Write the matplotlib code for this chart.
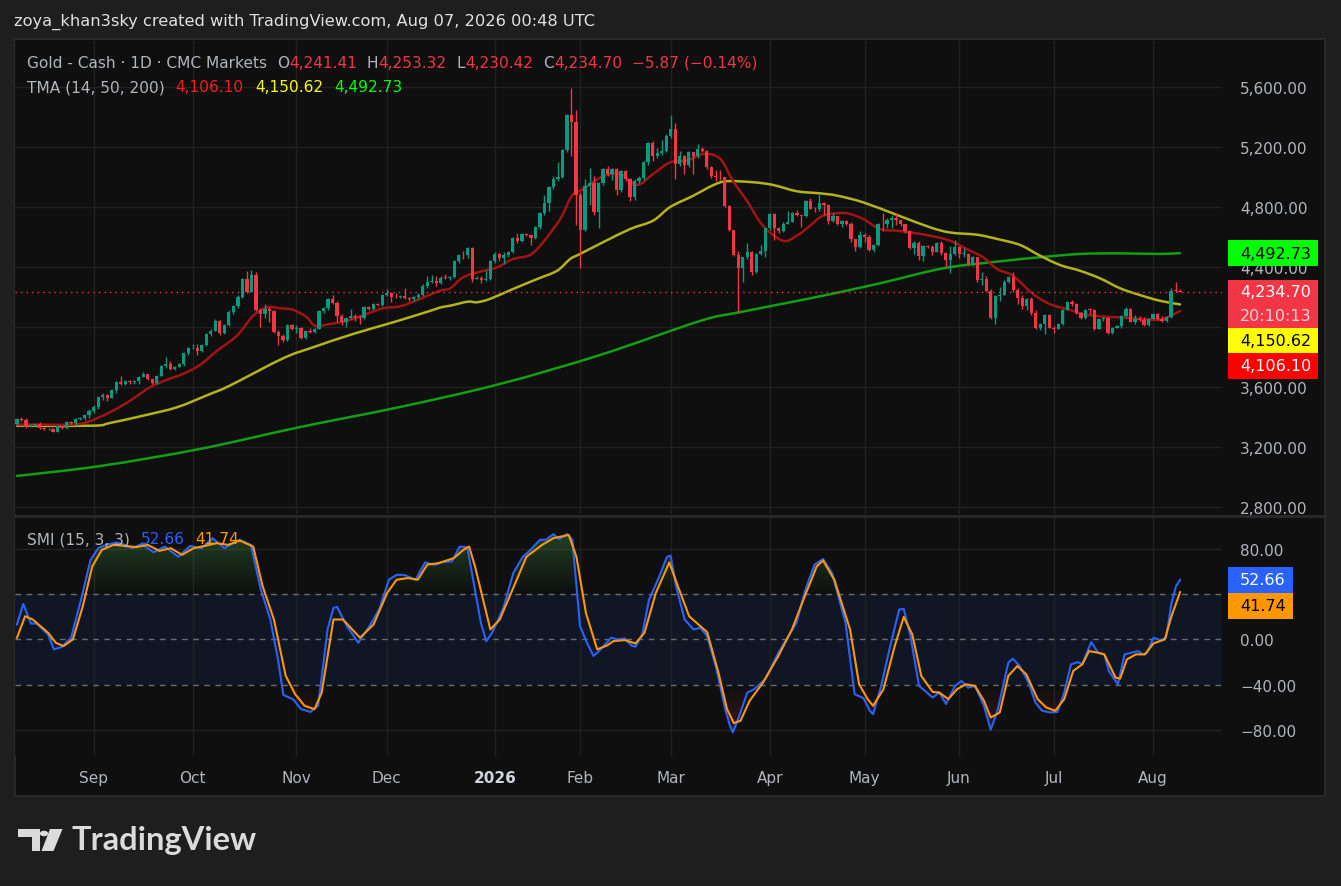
import numpy as np
import matplotlib
matplotlib.use("Agg")
import matplotlib.pyplot as plt
from matplotlib.patches import Rectangle, Polygon, Circle, PathPatch
from matplotlib.path import Path
from matplotlib.colors import to_rgb

# ---- daily candles (Gold - Cash, CMC Markets) ----
first_open = 3351
closes = [
    3385, 3380, 3330, 3345, 3350, 3325, 3320, 3318, 3302, 3340,
    3328, 3365, 3360, 3387, 3390, 3410, 3443, 3469, 3531, 3549,
    3528, 3580, 3631, 3617, 3640, 3630, 3640, 3669, 3685, 3650,
    3627, 3675, 3740, 3752, 3720, 3735, 3755, 3827, 3858, 3860,
    3840, 3880, 3956, 3975, 4038, 3960, 4010, 4102, 4138, 4202,
    4320, 4235, 4347, 4115, 4087, 4120, 4105, 3965, 3938, 3912,
    4013, 3987, 3990, 3925, 3973, 3965, 3985, 4107, 4125, 4187,
    4160, 4076, 4036, 4060, 4075, 4065, 4062, 4130, 4122, 4153,
    4148, 4215, 4227, 4200, 4198, 4205, 4195, 4185, 4200, 4215,
    4276, 4298, 4305, 4295, 4330, 4327, 4335, 4440, 4480, 4478,
    4527, 4320, 4330, 4310, 4320, 4442, 4490, 4460, 4478, 4500,
    4593, 4573, 4622, 4613, 4595, 4667, 4760, 4827, 4933, 4987,
    5000, 5182, 5413, 5365, 4880, 4649, 4938, 4960, 4769, 4960,
    5053, 5020, 5053, 4913, 5040, 4987, 4867, 4975, 4995, 5102,
    5227, 5138, 5160, 5175, 5276, 5320, 5085, 5142, 5080, 5165,
    5138, 5187, 5173, 5067, 5009, 5000, 4998, 4809, 4645, 4480,
    4395, 4465, 4500, 4369, 4487, 4505, 4658, 4753, 4660, 4640,
    4690, 4700, 4760, 4745, 4740, 4840, 4790, 4785, 4829, 4816,
    4709, 4738, 4690, 4710, 4685, 4587, 4536, 4613, 4603, 4513,
    4550, 4687, 4685, 4713, 4727, 4711, 4685, 4638, 4527, 4560,
    4471, 4542, 4535, 4500, 4560, 4493, 4447, 4485, 4531, 4487,
    4490, 4420, 4465, 4313, 4320, 4242, 4062, 4209, 4215, 4302,
    4331, 4247, 4196, 4138, 4187, 4093, 3991, 4020, 4080, 3993,
    3988, 4020, 4115, 4165, 4150, 4093, 4058, 4115, 4112, 3987,
    4050, 4060, 3960, 3993, 4005, 4071, 4120, 4036, 4052, 4045,
    4010, 4055, 4085, 4050, 4040, 4065, 4243, 4241.41, 4234.70,
]
highs = [
    3395, 3400, 3390, 3352, 3358, 3365, 3330, 3328, 3325, 3345,
    3345, 3370, 3372, 3392, 3398, 3418, 3455, 3478, 3535, 3560,
    3552, 3585, 3640, 3672, 3648, 3645, 3648, 3675, 3700, 3688,
    3655, 3680, 3745, 3800, 3770, 3742, 3762, 3835, 3865, 3885,
    3885, 3888, 3962, 3985, 4050, 4048, 4020, 4110, 4145, 4210,
    4328, 4375, 4378, 4365, 4128, 4150, 4135, 4110, 3982, 3950,
    4020, 4022, 4010, 4000, 3980, 3990, 3992, 4112, 4135, 4195,
    4215, 4170, 4085, 4068, 4120, 4085, 4080, 4138, 4140, 4162,
    4160, 4222, 4255, 4235, 4225, 4215, 4260, 4200, 4208, 4225,
    4285, 4340, 4345, 4340, 4338, 4355, 4340, 4448, 4490, 4505,
    4535, 4535, 4338, 4338, 4378, 4450, 4498, 4495, 4500, 4510,
    4600, 4625, 4630, 4628, 4618, 4675, 4768, 4880, 4940, 5010,
    5100, 5190, 5420, 5591, 5447, 4900, 4985, 5060, 5010, 4968,
    5060, 5075, 5062, 5060, 5050, 5048, 4995, 4985, 5005, 5110,
    5235, 5240, 5195, 5245, 5285, 5413, 5360, 5175, 5150, 5172,
    5170, 5222, 5200, 5182, 5075, 5045, 5045, 5000, 4815, 4650,
    4510, 4470, 4560, 4510, 4495, 4545, 4665, 4760, 4760, 4670,
    4698, 4775, 4768, 4780, 4750, 4848, 4860, 4800, 4887, 4835,
    4820, 4760, 4735, 4715, 4715, 4700, 4590, 4640, 4625, 4615,
    4555, 4695, 4760, 4725, 4745, 4760, 4720, 4690, 4650, 4575,
    4575, 4550, 4548, 4545, 4565, 4575, 4500, 4540, 4580, 4540,
    4530, 4495, 4475, 4470, 4365, 4340, 4250, 4215, 4265, 4310,
    4340, 4365, 4260, 4215, 4195, 4200, 4110, 4025, 4088, 4085,
    4005, 4025, 4120, 4170, 4180, 4160, 4100, 4122, 4125, 4120,
    4055, 4068, 4068, 4000, 4012, 4078, 4130, 4125, 4080, 4075,
    4065, 4060, 4090, 4092, 4070, 4070, 4260, 4302, 4253.32,
]
lows = [
    3345, 3375, 3325, 3330, 3342, 3318, 3315, 3310, 3298, 3300,
    3322, 3318, 3355, 3345, 3382, 3378, 3395, 3428, 3455, 3515,
    3505, 3525, 3560, 3610, 3612, 3622, 3620, 3622, 3668, 3645,
    3620, 3622, 3670, 3728, 3710, 3715, 3730, 3738, 3815, 3850,
    3815, 3835, 3870, 3940, 3970, 3945, 3955, 4005, 4088, 4125,
    4190, 4225, 4230, 4105, 3998, 4060, 4033, 3958, 3880, 3900,
    3905, 3980, 3960, 3920, 3920, 3958, 3960, 3985, 4090, 4110,
    4150, 4035, 4010, 4000, 4052, 4040, 4020, 4055, 4110, 4115,
    4140, 4140, 4205, 4165, 4190, 4195, 4188, 4170, 4172, 4185,
    4205, 4260, 4295, 4272, 4285, 4320, 4315, 4325, 4430, 4455,
    4460, 4300, 4318, 4290, 4305, 4315, 4430, 4440, 4420, 4470,
    4495, 4562, 4565, 4605, 4550, 4590, 4655, 4750, 4775, 4920,
    4975, 4995, 5165, 5140, 4682, 4393, 4640, 4815, 4750, 4660,
    4945, 5010, 4980, 4880, 4900, 4975, 4840, 4850, 4960, 4980,
    5080, 5110, 5130, 5150, 5165, 5260, 4985, 5075, 5020, 5070,
    5020, 5130, 5165, 5055, 4995, 4975, 4980, 4800, 4640, 4475,
    4100, 4300, 4455, 4350, 4360, 4480, 4470, 4650, 4580, 4630,
    4635, 4690, 4700, 4740, 4670, 4735, 4785, 4770, 4775, 4745,
    4690, 4700, 4680, 4670, 4680, 4565, 4510, 4530, 4565, 4505,
    4500, 4540, 4640, 4660, 4660, 4680, 4675, 4630, 4520, 4490,
    4450, 4440, 4525, 4480, 4500, 4480, 4400, 4360, 4480, 4460,
    4470, 4415, 4410, 4300, 4280, 4235, 4055, 4020, 4170, 4250,
    4290, 4235, 4150, 4120, 4115, 4080, 3985, 3980, 3950, 3990,
    3960, 3985, 4015, 4110, 4140, 4085, 4050, 4050, 4085, 3980,
    3985, 4040, 3955, 3955, 3990, 3990, 4065, 4030, 4020, 4040,
    4005, 4005, 4050, 4045, 4030, 4030, 4060, 4232, 4230.42,
]

month_labels = ["Sep", "Oct", "Nov", "Dec", "2026", "Feb", "Mar", "Apr",
                "May", "Jun", "Jul", "Aug"]
month_idx = [17, 39, 62, 82, 106, 125, 145, 167, 188, 209, 230, 252]
price_ticks = [2800, 3200, 3600, 4000, 4400, 4800, 5200, 5600]

# ---- TMA (14, 50, 200) lines, read at points along each curve ----
tma14_idx = [0, 5.8, 11.8, 15.5, 20.6, 25.1, 29.5, 33.3, 36.8, 40.6, 44.4, 48.8,
             52.4, 55.5, 58.3, 61.2, 64.3, 66.1, 69.4, 73.2, 77.6, 81.2, 85.0,
             89.4, 93.8, 96.1, 98.9, 102.7, 106.5, 110.0, 113.8, 116.7, 120.5,
             123.1, 125.6, 130.0, 133.8, 137.5, 141.1, 144.9, 148.6, 152.2,
             155.9, 158.8, 161.9, 165.5, 169.9, 173.0, 175.9, 178.1, 180.3,
             184.1, 187.7, 191.4, 195.2, 198.1, 202.5, 207.0, 211.4, 214.3,
             217.4, 220.3, 221.8, 225.4, 229.1, 232.9, 236.4, 240.2, 244.0,
             247.6, 251.3, 254.2, 258]
tma14_val = [3349, 3349, 3349, 3365, 3431, 3509, 3598, 3649, 3687, 3747, 3842, 3942,
             4075, 4131, 4125, 4115, 4065, 4009, 4020, 4042, 4087, 4125, 4138,
             4187, 4242, 4258, 4330, 4369, 4398, 4453, 4480, 4565, 4720,
             4875, 4920, 5005, 5020, 4947, 5020, 5098, 5109, 5153,
             5124, 4975, 4842, 4675, 4575, 4609, 4675, 4731, 4753,
             4758, 4720, 4653, 4642, 4631, 4609, 4575, 4509, 4465,
             4387, 4353, 4320, 4220, 4153, 4120, 4087, 4071, 4065,
             4058, 4049, 4053, 4106.10]
tma50_idx = [0, 16.9, 20.6, 28.0, 35.5, 42.8, 47.2, 59.0, 65.7, 74.5, 83.4, 91.6,
             94.0, 96.1, 100.0, 102.0, 104.9, 110.0, 115.4, 119.8, 122.7, 124.9,
             130.0, 136.0, 141.1, 144.9, 150.0, 154.4, 157.5, 163.3, 167.7,
             173.0, 178.1, 181.9, 187.7, 195.2, 202.5, 207.0, 213.0, 217.4,
             222.5, 226.9, 231.4, 235.8, 240.2, 244.7, 249.1, 253.5, 258]
tma50_val = [3342, 3342, 3360, 3409, 3465, 3553, 3609, 3791, 3865, 3953, 4031, 4107,
             4131, 4142, 4169, 4165, 4187, 4253, 4320, 4375, 4453, 4487,
             4565, 4653, 4709, 4800, 4875, 4945, 4972, 4965, 4947,
             4905, 4891, 4876, 4831, 4747, 4665, 4630, 4615, 4587,
             4547, 4476, 4413, 4375, 4325, 4258, 4213, 4175, 4150.62]
tma200_idx = [0, 18.4, 40.6, 62.8, 85.0, 107.1, 129.3, 151.5, 160.2, 175.9,
              190.8, 205.4, 218.1, 226.9, 235.8, 244.7, 253.5, 258]
tma200_val = [3007, 3073, 3187, 3333, 3467, 3620, 3813, 4040, 4098, 4191,
              4287, 4391, 4438, 4465, 4487, 4491, 4487, 4492.73]

# ---- SMI (15, 3, 3) ----
smi_idx = [0, 1.4, 3.1, 4.4, 6.9, 8.2, 9.9, 12.0, 14.2, 16.3, 18.0, 19.7, 22.2,
           23.9, 25.6, 27.7, 30.3, 32.8, 35.8, 38.4, 40.9, 43.4, 46.0, 49.4,
           51.9, 54.1, 56.2, 57.9, 59.1, 61.3, 63.0, 65.1, 66.8, 68.9, 70.2,
           71.0, 73.2, 75.7, 78.2, 80.4, 82.5, 84.2, 85.9, 88.4, 90.5, 92.7,
           94.4, 96.5, 98.2, 99.9, 102.9, 104.1, 105.4, 107.9, 110.1, 112.2,
           113.9, 116.0, 117.3, 119.0, 120.3, 122.0, 123.2, 124.9, 126.6,
           127.9, 129.3, 131.8, 133.3, 134.8, 136.3, 137.2, 138.7, 140.2,
           142.2, 144.2, 145.0, 146.2, 148.1, 150.1, 151.6, 153.1, 155.1,
           157.1, 158.1, 158.8, 160.0, 162.0, 163.5, 166.0, 168.9, 170.9,
           172.9, 174.9, 176.9, 178.8, 180.8, 183.8, 185.8, 187.8, 189.2,
           189.9, 191.7, 193.7, 195.7, 196.7, 198.2, 200.1, 201.6, 203.1,
           204.6, 206.1, 208.1, 209.5, 211.0, 212.5, 214.5, 216.0, 217.5,
           219.9, 220.9, 222.4, 224.4, 225.9, 227.4, 229.3, 230.8, 232.3,
           233.8, 235.3, 236.3, 238.3, 239.8, 241.2, 242.2, 244.2, 245.7,
           247.2, 248.7, 249.7, 250.7, 252.1, 253.6, 254.9, 256.1, 257.1, 258]
smi_val = [13.2, 31.4, 14.0, 14.0, 4.4, -8.8, -6.7, 1.5, 35.0, 70.0, 80.6, 83.5, 85.6,
           83.5, 80.6, 84.4, 77.0, 82.0, 73.0, 82.6, 80.6, 89.4, 80.6, 88.0,
           83.5, 44.0, 17.6, -17.6, -49.0, -53.0, -61.5, -64.0, -58.6, 8.8, 27.8,
           28.7, 11.7, -2.9, 11.7, 27.0, 52.7, 57.0, 57.0, 52.7, 68.0, 66.0,
           68.3, 69.0, 82.0, 81.5, 14.6, -1.5, 5.9, 27.8, 58.6, 73.0,
           79.0, 88.0, 88.0, 93.0, 88.5, 93.0, 88.0, 11.7, -4.4,
           -14.6, -9.4, 1.5, 0.0, 0.9, -5.3, -6.4, 4.4, 35.0,
           53.0, 73.0, 74.0, 47.0, 17.6, 8.8, 10.3, 2.9, -25.0,
           -61.5, -75.6, -82.0, -70.0, -47.0, -44.0, -35.0, -11.7, 1.5,
           14.6, 44.0, 66.0, 71.0, 58.6, 14.6, -48.3, -51.9, -63.0,
           -66.0, -41.0, -5.9, 26.4, 27.0, 2.9, -41.0, -46.0, -51.3,
           -46.9, -57.0, -41.0, -36.6, -42.5, -41.0, -58.6, -79.7, -63.0,
           -20.5, -17.0, -23.4, -38.0, -55.7, -63.0, -64.5, -64.0, -47.0,
           -22.0, -20.0, -22.0, -2.3, -11.7, -13.2, -27.8, -39.6, -13.2,
           -11.7, -10.3, -13.2, -11.7, 1.5, -0.6, 1.5, 32.0, 47.0, 52.66]
signal_idx = [0, 1.8, 3.5, 6.9, 8.6, 10.3, 12.4, 14.6, 16.7, 18.8, 21.4, 23.9,
              26.5, 29.0, 31.6, 34.1, 36.6, 39.2, 41.7, 44.3, 46.8, 49.4, 52.4,
              54.5, 57.0, 59.6, 61.7, 63.8, 66.0, 67.6, 70.2, 72.3, 76.1, 79.1,
              82.1, 84.2, 86.7, 88.9, 91.0, 93.5, 96.9, 99.0, 100.3, 101.6,
              105.0, 107.1, 109.6, 113.0, 116.5, 119.0, 122.4, 124.1, 126.2,
              128.7, 130.9, 132.3, 134.8, 137.2, 139.2, 141.7, 144.7, 146.6,
              149.1, 151.6, 153.1, 155.6, 157.5, 159.0, 160.5, 162.5, 165.5,
              168.9, 171.9, 174.9, 177.4, 178.8, 181.3, 184.8, 186.8, 188.7,
              189.9, 192.2, 194.7, 196.7, 198.6, 200.6, 203.1, 204.6, 206.6,
              208.5, 210.5, 212.5, 214.5, 216.0, 218.0, 219.9, 221.9, 223.9,
              226.4, 228.3, 230.3, 232.3, 234.3, 236.3, 237.8, 239.8, 241.2,
              243.7, 244.7, 246.2, 248.2, 250.2, 252.1, 254.6, 256.1, 258]
signal_val = [1.5, 20.5, 17.6, 5.9, -2.9, -5.9, 0.0, 29.3, 64.5, 79.0, 83.5, 82.6,
              81.5, 83.5, 78.2, 80.6, 74.7, 80.6, 82.6, 85.0, 83.5, 87.3, 82.0,
              46.9, 17.6, -32.0, -48.3, -58.6, -61.5, -46.9, 17.6, 17.6, 1.5, 13.2,
              41.0, 52.7, 54.2, 52.7, 66.0, 67.4, 71.8, 79.0, 82.0, 64.5,
              8.8, 17.6, 41.0, 73.0, 83.5, 89.4, 92.3, 73.0, 23.4,
              -8.8, -5.3, -1.5, -0.6, -3.5, 5.9, 41.0, 68.0, 47.0,
              20.5, 11.7, 6.4, -29.3, -61.5, -73.8, -71.8, -54.2, -38.0,
              -14.6, 8.8, 39.6, 64.5, 69.7, 52.7, 8.8, -39.6, -52.7,
              -58.6, -44.0, -5.9, 19.9, 4.4, -32.2, -46.3, -46.9, -52.7,
              -44.0, -39.6, -41.0, -54.2, -68.9, -64.5, -32.2, -23.4, -30.8,
              -52.7, -60.0, -63.0, -52.7, -27.8, -22.0, -10.3, -11.7, -13.2,
              -33.7, -34.6, -17.6, -13.2, -13.2, -3.5, 0.0, 20.5, 41.74]

# ---------------------------------------------------------------------------
W, H = 1341, 887
BG_PAGE = "#1e1e1e"
BG = "#0f0f0f"
GRID = "#212121"
TXT = "#b2b5be"
UP, DOWN = "#089981", "#f23645"


def frect(x0, y0, x1, y1):
    return [x0 / W, 1 - y1 / H, (x1 - x0) / W, (y1 - y0) / H]


def fy(y):
    return 1 - y / H


fig = plt.figure(figsize=(W / 100, H / 100), dpi=100, facecolor=BG_PAGE)
plt.rcParams["font.family"] = ["DejaVu Sans"]

fig.patches.append(Rectangle((15 / W, fy(797)), 1310 / W, 757 / H, transform=fig.transFigure,
                             facecolor=BG, edgecolor="#2c2c2c", lw=1.2, zorder=-5))

ax = fig.add_axes(frect(15, 42, 1222, 515), facecolor=BG)
ax2 = fig.add_axes(frect(15, 518, 1222, 757), facecolor=BG)
fig.add_artist(plt.Line2D([15 / W, 1325 / W], [fy(516.5)] * 2, color="#2a2a2a", lw=2))

closes = np.array(closes, dtype=float)
opens = np.concatenate([[first_open], closes[:-1]])
highs = np.maximum(np.array(highs, dtype=float), np.maximum(opens, closes))
lows = np.minimum(np.array(lows, dtype=float), np.minimum(opens, closes))
idx = np.arange(len(closes))
xlim = (-0.44, 267.3)


def smooth_line(a, xs, ys, color, lw, z):
    # draw a curve through the read points (Catmull-Rom as cubic Beziers)
    p = np.column_stack([xs, ys]).astype(float)
    p = np.vstack([p[0], p, p[-1]])
    verts = [tuple(p[1])]
    codes = [Path.MOVETO]
    for i in range(1, len(p) - 2):
        c1 = p[i] + (p[i + 1] - p[i - 1]) / 6
        c2 = p[i + 1] - (p[i + 2] - p[i]) / 6
        verts += [tuple(c1), tuple(c2), tuple(p[i + 1])]
        codes += [Path.CURVE4] * 3
    a.add_patch(PathPatch(Path(verts, codes), facecolor="none", edgecolor=color,
                          lw=lw, zorder=z, capstyle="round", joinstyle="round"))


# ---- price pane ----
ax.set_xlim(*xlim)
ax.set_ylim(2753.3, 5906.7)
colors = np.where(closes >= opens, UP, DOWN)
ax.vlines(idx, lows, highs, colors=colors, lw=1, zorder=3)
body_lo = np.minimum(opens, closes)
body_h = np.maximum(np.abs(closes - opens), 5)
ax.bar(idx, body_h, bottom=body_lo, width=0.72, color=colors, lw=0, zorder=4)

smooth_line(ax, tma200_idx, tma200_val, "#12a012", 1.8, 2)
smooth_line(ax, tma50_idx, tma50_val, "#b3b31c", 1.8, 2)
smooth_line(ax, tma14_idx, tma14_val, "#a41313", 1.8, 2)
ax.axhline(closes[-1], color=DOWN, lw=1, ls=(0, (1, 3)), zorder=5)

# 4,000.00 sits behind the stacked value labels, as in the original
ax.set_yticks(price_ticks)
ax.set_yticklabels(["" if v == 4000 else f"{v:,.2f}" for v in price_ticks])
ax.yaxis.tick_right()
ax.set_xticks(month_idx)
ax.set_xticklabels([])
ax.tick_params(axis="both", length=0, colors=TXT, labelsize=11)
ax.tick_params(axis="y", pad=13)
ax.grid(True, color=GRID, lw=1)
ax.set_axisbelow(True)
for s in ax.spines.values():
    s.set_visible(False)

# ---- SMI pane ----
ax2.set_xlim(*xlim)
ax2.set_ylim(-102.9, 108.1)
ax2.axhspan(-40, 40, color="#2962ff", alpha=0.09, lw=0, zorder=0)
for lv in (80, -80):
    ax2.axhline(lv, color=GRID, lw=1, zorder=0)
for lv in (40, 0, -40):
    ax2.axhline(lv, color="#6a6d78", lw=1, ls=(0, (4, 4)), zorder=1)

smi_x = np.array(smi_idx)
smi_y = np.array(smi_val)


def gradient_fill(level, edge, color, amax, above):
    if above:
        coll = ax2.fill_between(smi_x, smi_y, level, where=smi_y > level,
                                interpolate=True, color="none", lw=0)
        lo, hi = level, edge
        ramp = np.linspace(0, amax, 200)
    else:
        coll = ax2.fill_between(smi_x, smi_y, level, where=smi_y < level,
                                interpolate=True, color="none", lw=0)
        lo, hi = edge, level
        ramp = np.linspace(amax, 0, 200)
    paths = coll.get_paths()
    if not paths:
        return
    img = np.zeros((200, 1, 4))
    img[:, 0, :3] = to_rgb(color)
    img[:, 0, 3] = ramp
    im = ax2.imshow(img, extent=[smi_x[0], smi_x[-1], lo, hi], origin="lower",
                    aspect="auto", zorder=1, interpolation="bilinear")
    im.set_clip_path(Path.make_compound_path(*paths), transform=ax2.transData)


gradient_fill(40, 92, "#4caf50", 0.3, True)
gradient_fill(-40, -85, "#f23645", 0.2, False)
ax2.set_xlim(*xlim)
ax2.set_ylim(-102.9, 108.1)

ax2.plot(smi_idx, smi_val, color="#2962ff", lw=1.5, zorder=3)
ax2.plot(signal_idx, signal_val, color="#ff9800", lw=1.5, zorder=4)

# 40.00 sits behind the value labels, as in the original
smi_ticks = [-80, -40, 0, 40, 80]
ax2.set_yticks(smi_ticks)
ax2.set_yticklabels(["" if v == 40 else f"{v:.2f}".replace("-", "\u2212") for v in smi_ticks])
ax2.yaxis.tick_right()
ax2.set_xticks(month_idx)
ax2.set_xticklabels(month_labels)
ax2.tick_params(axis="both", length=0, colors=TXT, labelsize=11)
ax2.tick_params(axis="y", pad=13)
ax2.tick_params(axis="x", pad=10)
for lab in ax2.get_xticklabels():
    if lab.get_text() == "2026":
        lab.set_fontweight("bold")
        lab.set_color("#d1d4dc")
ax2.grid(True, axis="x", color=GRID, lw=1)
ax2.set_axisbelow(True)
for s in ax2.spines.values():
    s.set_visible(False)

# ---- legends and header ----
renderer = fig.canvas.get_renderer()


def seq_text(x, y, parts, size=11.1):
    for text, color, gap in parts:
        t = fig.text(x / W, fy(y), text, color=color, fontsize=size, va="center", ha="left")
        x += t.get_window_extent(renderer).width + gap


fig.text(14 / W, fy(22), "zoya_khan3sky created with TradingView.com, Aug 07, 2026 00:48 UTC",
         color="#e0e0e0", fontsize=11.7, va="center", ha="left")
seq_text(27, 63, [("Gold - Cash \u00b7 1D \u00b7 CMC Markets", TXT, 10),
                  ("O", TXT, 0), ("4,241.41", DOWN, 10),
                  ("H", TXT, 0), ("4,253.32", DOWN, 10),
                  ("L", TXT, 0), ("4,230.42", DOWN, 10),
                  ("C", TXT, 0), ("4,234.70", DOWN, 10),
                  ("\u22125.87 (\u22120.14%)", DOWN, 0)])
seq_text(27, 88, [("TMA (14, 50, 200)", TXT, 11), ("4,106.10", "#ff1a1a", 11),
                  ("4,150.62", "#ffff00", 11), ("4,492.73", "#00ff00", 0)])
seq_text(27, 540, [("SMI (15, 3, 3)", TXT, 11), ("52.66", "#2962ff", 11),
                   ("41.74", "#ff9800", 0)])


# ---- right-scale value labels ----
def ypix(a, v):
    return H - a.transData.transform((0, v))[1]


def box(y0, y1, x1, face):
    fig.patches.append(Rectangle((1228 / W, fy(y1)), (x1 - 1228) / W, (y1 - y0) / H,
                                 transform=fig.transFigure, facecolor=face, lw=0, zorder=5))


def box_text(y, text, color, size=11.5):
    fig.text(1240 / W, fy(y), text, color=color, fontsize=size, va="center", ha="left", zorder=6)


yg = ypix(ax, tma200_val[-1])
box(yg - 13, yg + 13, 1318, "#00ff00")
box_text(yg, f"{tma200_val[-1]:,.2f}", "black")

yp = ypix(ax, closes[-1])
box(yp - 12, yp + 36, 1318, "#f23645")
box_text(yp, f"{closes[-1]:,.2f}", "white")
box_text(yp + 24, "20:10:13", "#ffd3d7")

yy = yp + 36
box(yy, yy + 25, 1318, "#ffff00")
box_text(yy + 12.5, f"{tma50_val[-1]:,.2f}", "black")

yr = yy + 25
box(yr, yr + 26, 1318, "#ff0000")
box_text(yr + 13, f"{tma14_val[-1]:,.2f}", "white")

yb = ypix(ax2, smi_val[-1])
box(yb - 13, yb + 13, 1293, "#2962ff")
box_text(yb, f"{smi_val[-1]:.2f}", "white")
box(yb + 13, yb + 39, 1293, "#ff9800")
box_text(yb + 26, f"{signal_val[-1]:.2f}", "black")

# ---- TradingView logo ----
LOGO = "#dbdbdb"


def fpts(pts):
    return [(x / W, fy(y)) for x, y in pts]


fig.patches.append(Polygon(fpts([(18, 830), (40, 830), (40, 852), (31.5, 852), (31.5, 837.5), (18, 837.5)]),
                           closed=True, transform=fig.transFigure, facecolor=LOGO, lw=0))
fig.patches.append(Polygon(fpts([(50, 830), (62.5, 830), (53.5, 852), (41.5, 852)]),
                           closed=True, transform=fig.transFigure, facecolor=LOGO, lw=0))
fig.patches.append(Circle((44 / W, fy(834.5)), 4.2 / W, transform=fig.transFigure,
                          facecolor=LOGO, lw=0))
fig.text(72 / W, fy(841), "TradingView", color=LOGO, fontsize=23.5, fontweight="bold",
         family=["Lato", "DejaVu Sans"], va="center", ha="left")

fig.savefig("out.png", dpi=100, facecolor=BG_PAGE)
